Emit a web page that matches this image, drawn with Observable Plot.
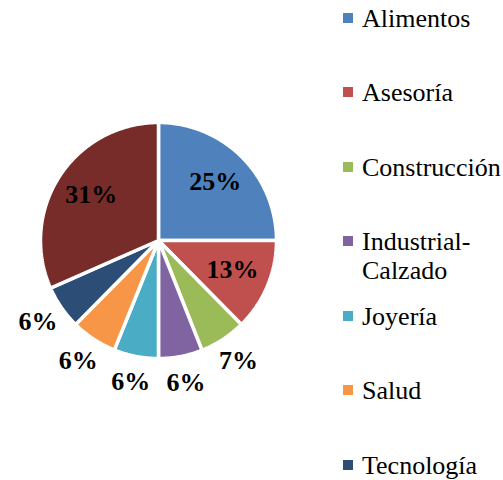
<!DOCTYPE html>
<html>
<head>
<meta charset="utf-8">
<script src="https://cdn.jsdelivr.net/npm/d3@7"></script>
<script src="https://cdn.jsdelivr.net/npm/@observablehq/plot@0.6"></script>
</head>
<body style="margin:0;padding:0;background:#fff;overflow:hidden">
<div id="wrap" style="position:relative;width:503px;height:480px"><div id="chart"></div><div id="legend" style="position:absolute;left:0;top:0;width:503px;height:480px;"></div></div>
<script>
const categories = ["Alimentos", "Asesoría", "Construcción", "Industrial-Calzado", "Joyería", "Salud", "Tecnología", "Otros"];
const legendLabels = ["Alimentos", "Asesoría", "Construcción", "Industrial-<br>Calzado", "Joyería", "Salud", "Tecnología"];
const values = [25.0, 12.6, 6.4, 6.0, 6.1, 6.3, 6.0, 31.6];
const pctLabels = ["25%", "13%", "7%", "6%", "6%", "6%", "6%", "31%"];
const colors = ["#4F81BD", "#C0504D", "#9BBB59", "#8064A2", "#4BACC6", "#F79646", "#2C4D75", "#772C2A"];

const SERIF = "Liberation Serif, Tinos, DejaVu Serif, serif";

const pie = d3.pie().sort(null).value(d => d)(values);
const polys = [];
const labels = [];
pie.forEach((p, i) => {
  const cat = categories[i];
  polys.push({cat, x: 0, y: 0});
  const steps = Math.max(2, Math.ceil((p.endAngle - p.startAngle) / 0.01));
  for (let k = 0; k <= steps; k++) {
    const a = p.startAngle + (p.endAngle - p.startAngle) * k / steps;
    polys.push({cat, x: Math.sin(a), y: Math.cos(a)});
  }
  polys.push({cat, x: 0, y: 0});
  const mid = (p.startAngle + p.endAngle) / 2;
  const share = values[i] / d3.sum(values);
  const inside = share > 0.1;
  const r = inside ? 0.68 : 1.24;
  labels.push({text: pctLabels[i], x: r * Math.sin(mid), y: r * Math.cos(mid)});
});

const plot = Plot.plot({
  width: 503,
  height: 480,
  margin: 0,
  style: {fontFamily: SERIF, background: "transparent"},
  x: {domain: [-1, 1], range: [40, 276], axis: null},
  y: {domain: [-1, 1], range: [358, 122], axis: null},
  color: {domain: categories, range: colors},
  marks: [
    Plot.line(polys, {x: "x", y: "y", z: "cat", fill: "cat", stroke: "white", strokeWidth: 3.5, strokeLinejoin: "miter"}),
    Plot.text(labels, {x: "x", y: "y", text: "text", fontSize: 26, fontWeight: "bold", fill: "black", fontFamily: SERIF, dy: -2})
  ]
});
document.getElementById("chart").appendChild(plot);

const legend = document.getElementById("legend");
legendLabels.forEach((lab, i) => {
  const row = document.createElement("div");
  row.style.cssText = "position:absolute;left:343px;display:flex;align-items:flex-start;font-size:26px;line-height:29px;color:#000;white-space:nowrap;font-family:" + SERIF;
  row.style.top = (18 + i * 74.5 - 14.5) + "px";
  row.innerHTML = `<div style="width:10px;height:10px;margin-top:9px;margin-right:9px;flex:none;background:${colors[i]}"></div><div>${lab}</div>`;
  legend.appendChild(row);
});
</script>
</body>
</html>
